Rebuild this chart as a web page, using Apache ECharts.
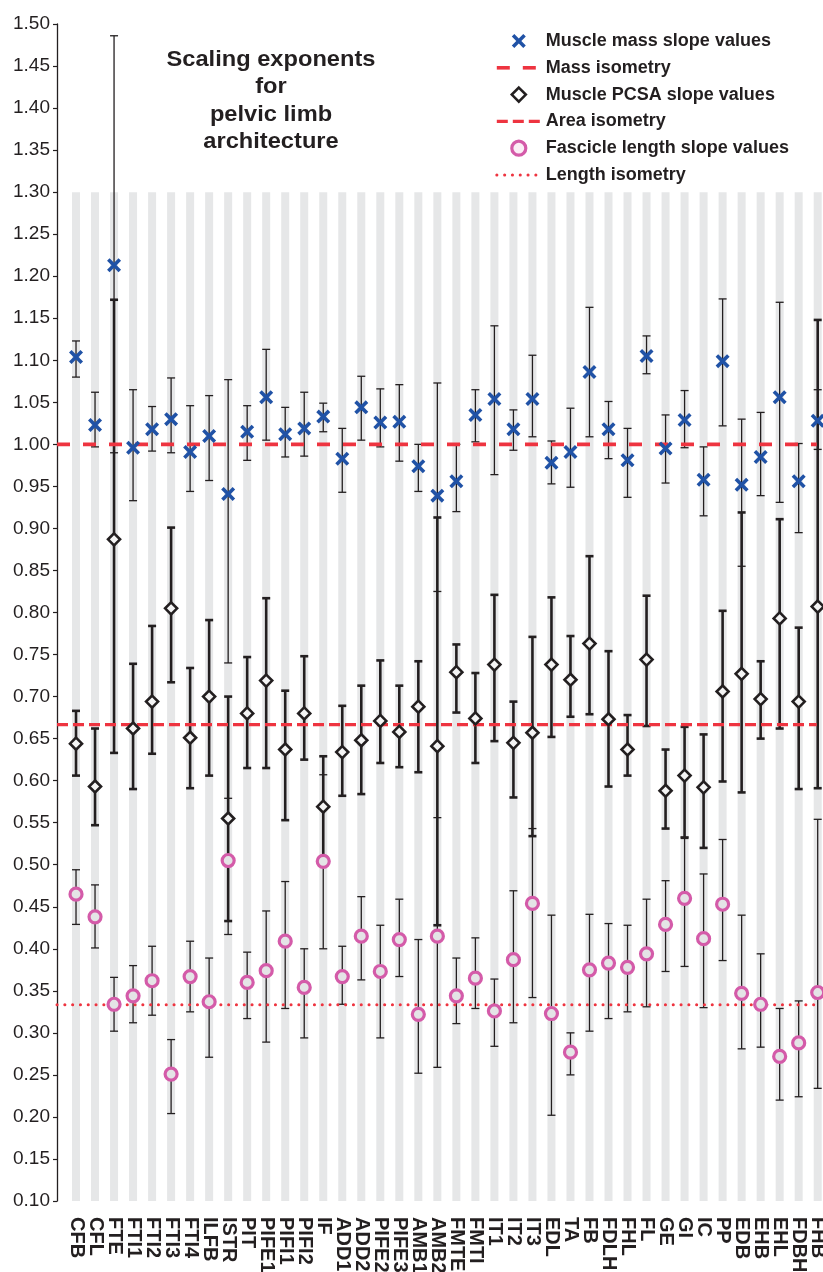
<!DOCTYPE html>
<html>
<head>
<meta charset="utf-8">
<script src="https://cdn.jsdelivr.net/npm/echarts@6/dist/echarts.min.js"></script>
<style>
  html, body { margin: 0; padding: 0; background: #fff; }
  #chart { width: 823px; height: 1272px; }
</style>
</head>
<body>
<div id="chart"></div>
<script>
// muscles along the x axis
var muscles = ['CFB','CFL','FTE','FTI1','FTI2','FTI3','FTI4','ILFB','ISTR','PIT','PIFE1','PIFI1','PIFI2','IF','ADD1','ADD2','PIFE2','PIFE3','AMB1','AMB2','FMTE','FMTI','IT1','IT2','IT3','EDL','TA','FB','FDLH','FHL','FL','GE','GI','IC','PP','EDB','EHB','EHL','FDBH','FHB'];

// muscle mass slopes and their intervals
var massSlope = [1.104,1.023,1.213,0.996,1.018,1.030,0.991,1.010,0.941,1.015,1.056,1.012,1.019,1.033,0.983,1.044,1.026,1.027,0.974,0.939,0.956,1.035,1.054,1.018,1.054,0.978,0.991,1.086,1.018,0.981,1.105,0.995,1.029,0.958,1.099,0.952,0.985,1.056,0.956,1.028];
var massLow   = [1.080,0.997,0.990,0.933,0.992,0.990,0.944,0.957,0.740,0.981,1.005,0.985,0.986,1.015,0.943,1.005,0.997,0.980,0.944,0.825,0.920,1.003,0.964,0.993,1.009,0.953,0.949,1.009,0.983,0.937,1.084,0.954,0.996,0.915,1.022,0.855,0.939,0.931,0.895,0.994];
var massHigh  = [1.123,1.062,1.486,1.065,1.045,1.079,1.046,1.058,1.077,1.046,1.113,1.044,1.062,1.049,1.019,1.081,1.066,1.071,1.000,1.073,1.000,1.065,1.141,1.041,1.106,1.004,1.043,1.163,1.051,1.019,1.129,1.035,1.064,0.997,1.173,1.030,1.038,1.169,1.001,1.065];

// PCSA slopes
var pcsaSlope = [0.644,0.593,0.887,0.662,0.694,0.805,0.651,0.700,0.555,0.680,0.719,0.637,0.680,0.569,0.634,0.648,0.671,0.658,0.688,0.641,0.729,0.674,0.738,0.645,0.657,0.738,0.720,0.763,0.673,0.637,0.744,0.588,0.606,0.592,0.706,0.727,0.697,0.793,0.694,0.807];
var pcsaLow   = [0.606,0.547,0.633,0.590,0.632,0.717,0.591,0.606,0.433,0.615,0.615,0.553,0.625,0.510,0.582,0.584,0.621,0.616,0.610,0.428,0.681,0.621,0.647,0.580,0.534,0.652,0.676,0.679,0.593,0.606,0.665,0.543,0.532,0.520,0.599,0.586,0.650,0.662,0.590,0.591];
var pcsaHigh  = [0.683,0.662,1.172,0.739,0.784,0.901,0.734,0.791,0.700,0.747,0.817,0.707,0.748,0.629,0.689,0.713,0.743,0.713,0.742,0.913,0.762,0.728,0.821,0.694,0.771,0.818,0.772,0.867,0.754,0.678,0.820,0.637,0.664,0.655,0.802,0.919,0.742,0.911,0.782,1.148];

// fascicle length slopes
var lenSlope = [0.465,0.438,0.334,0.344,0.362,0.251,0.367,0.337,0.505,0.360,0.374,0.409,0.354,0.504,0.367,0.415,0.373,0.411,0.322,0.415,0.344,0.365,0.326,0.387,0.454,0.323,0.277,0.375,0.383,0.378,0.394,0.429,0.460,0.412,0.453,0.347,0.334,0.272,0.288,0.348];
var lenLow   = [0.429,0.401,0.302,0.312,0.321,0.204,0.325,0.271,0.417,0.317,0.289,0.329,0.294,0.400,0.334,0.363,0.294,0.367,0.252,0.259,0.311,0.329,0.284,0.312,0.342,0.202,0.250,0.302,0.317,0.325,0.331,0.373,0.379,0.330,0.386,0.281,0.283,0.220,0.224,0.234];
var lenHigh  = [0.494,0.476,0.366,0.380,0.403,0.292,0.409,0.389,0.579,0.396,0.445,0.480,0.400,0.607,0.403,0.462,0.428,0.459,0.411,0.556,0.389,0.413,0.364,0.469,0.543,0.440,0.300,0.441,0.430,0.428,0.459,0.481,0.533,0.489,0.530,0.440,0.394,0.329,0.338,0.554];

// isometry reference values
var massIso = 1.0;
var areaIso = 2 / 3;
var lengthIso = 1 / 3;

// y scale
var yMin = 0.10, yMax = 1.50, yStep = 0.05;
var stripeTop = 1.30;
var xMin = -1, xMax = 39.3, lineEnd = 38.95;

var INK = '#231f20', RED = '#ee3440', BLUE = '#2052a6', PINK = '#d45ba9', STRIPE = '#e6e7e8';
var FONT = 'Liberation Sans';
var NONE = 'rgba(0,0,0,0)';

function pts(vals) { return vals.map(function (v, i) { return [i, v]; }); }
function ranges(lo, hi) { return lo.map(function (v, i) { return [i, v, hi[i]]; }); }

function errorBars(width) {
  return function (params, api) {
    var x = api.value(0);
    var a = api.coord([x, api.value(1)]);
    var b = api.coord([x, api.value(2)]);
    var c = 4;
    var st = { stroke: INK, lineWidth: width };
    return {
      type: 'group',
      children: [
        { type: 'line', shape: { x1: a[0], y1: a[1], x2: b[0], y2: b[1] }, style: st },
        { type: 'line', shape: { x1: a[0] - c, y1: a[1], x2: a[0] + c, y2: a[1] }, style: st },
        { type: 'line', shape: { x1: b[0] - c, y1: b[1], x2: b[0] + c, y2: b[1] }, style: st }
      ]
    };
  };
}

var crossPath = 'path://M0,3.6 L3.6,0 L10,6.4 L16.4,0 L20,3.6 L13.6,10 L20,16.4 L16.4,20 L10,13.6 L3.6,20 L0,16.4 L6.4,10 Z';
var diamondPath = 'path://M10,0 L20,10 L10,20 L0,10 Z';

var myChart = echarts.init(document.getElementById('chart'), null, { renderer: 'canvas' });

var option = {
  animation: false,
  backgroundColor: '#fff',
  textStyle: { fontFamily: FONT, color: INK },
  graphic: [{
    type: 'text',
    x: 271, y: 46,
    scaleX: 1.1,
    style: {
      text: 'Scaling exponents\nfor\npelvic limb\narchitecture',
      textAlign: 'center',
      fill: INK,
      fontFamily: FONT,
      fontWeight: 'bold',
      fontSize: 21.5,
      lineHeight: 27.5
    }
  }],
  legend: {
    orient: 'vertical',
    left: 490, top: 27,
    itemWidth: 44, itemHeight: 14, itemGap: 8.8,
    textStyle: { fontSize: 18, fontWeight: 'bold', color: INK, fontFamily: FONT },
    data: [
      { name: 'Muscle mass slope values' },
      { name: 'Mass isometry', lineStyle: { width: 3.6 } },
      { name: 'Muscle PCSA slope values', itemStyle: { color: '#ffffff', borderColor: INK, borderWidth: 2.6 } },
      { name: 'Area isometry', lineStyle: { width: 3.4 } },
      { name: 'Fascicle length slope values', itemStyle: { color: '#fbeef6', borderColor: PINK, borderWidth: 3.2 } },
      { name: 'Length isometry', lineStyle: { width: 3, cap: 'round' } }
    ]
  },
  grid: { left: 57, top: 24, width: (xMax - xMin) * 19.0175, height: 1177, containLabel: false, outerBoundsMode: 'none' },
  xAxis: {
    type: 'value', min: xMin, max: xMax, interval: 1,
    axisLine: { show: false }, axisTick: { show: false }, splitLine: { show: false },
    axisLabel: {
      rotate: -90, margin: 16, fontSize: 20, fontWeight: 'bold', color: INK, fontFamily: FONT,
      showMinLabel: true, showMaxLabel: true,
      formatter: function (v) {
        return (Math.abs(v - Math.round(v)) < 1e-6 && v >= 0 && v < muscles.length) ? muscles[Math.round(v)] : '';
      }
    }
  },
  yAxis: {
    type: 'value', min: yMin, max: yMax, interval: yStep,
    axisLine: { show: true, onZero: false, lineStyle: { color: INK, width: 1.3 } },
    axisTick: { show: true, length: 4, lineStyle: { color: INK, width: 1.2 } },
    splitLine: { show: false },
    axisLabel: { margin: 7, fontSize: 19, color: INK, fontFamily: FONT, formatter: function (v) { return v.toFixed(2); } }
  },
  series: [
    {
      type: 'custom', name: 'stripes', silent: true, z: 1,
      data: muscles.map(function (m, i) { return [i, yMin, stripeTop]; }),
      encode: { x: 0, y: [1, 2] },
      renderItem: function (params, api) {
        var a = api.coord([api.value(0), api.value(1)]);
        var b = api.coord([api.value(0), api.value(2)]);
        return { type: 'rect', shape: { x: a[0] - 4, y: b[1], width: 8, height: a[1] - b[1] }, style: { fill: STRIPE } };
      }
    },
    { type: 'custom', name: 'massErr', silent: true, z: 2, data: ranges(massLow, massHigh), encode: { x: 0, y: [1, 2] }, renderItem: errorBars(1.3) },
    { type: 'custom', name: 'lenErr', silent: true, z: 2, data: ranges(lenLow, lenHigh), encode: { x: 0, y: [1, 2] }, renderItem: errorBars(1.3) },
    { type: 'custom', name: 'pcsaErr', silent: true, z: 3, data: ranges(pcsaLow, pcsaHigh), encode: { x: 0, y: [1, 2] }, renderItem: errorBars(2.6) },
    {
      type: 'line', name: 'Mass isometry', z: 4, silent: true, symbol: 'circle', showSymbol: false,
      data: [[xMin, massIso], [lineEnd, massIso]],
      lineStyle: { color: RED, width: 3.6, type: [13, 13] }, itemStyle: { color: NONE, borderWidth: 0 }
    },
    {
      type: 'line', name: 'Area isometry', z: 4, silent: true, symbol: 'circle', showSymbol: false,
      data: [[xMin, areaIso], [lineEnd, areaIso]],
      lineStyle: { color: RED, width: 3.4, type: [11, 5] }, itemStyle: { color: NONE, borderWidth: 0 }
    },
    {
      type: 'line', name: 'Length isometry', z: 4, silent: true, symbol: 'circle', showSymbol: false,
      data: [[xMin, lengthIso], [lineEnd, lengthIso]],
      lineStyle: { color: RED, width: 3, type: [0.1, 7.7], cap: 'round' }, itemStyle: { color: NONE, borderWidth: 0 }
    },
    {
      type: 'scatter', name: 'Muscle mass slope values', z: 5,
      symbol: crossPath, symbolSize: 14,
      data: pts(massSlope), itemStyle: { color: BLUE, opacity: 1 }
    },
    {
      type: 'scatter', name: 'Muscle PCSA slope values', z: 5,
      symbol: diamondPath, symbolSize: 12, symbolKeepAspect: true,
      data: pts(pcsaSlope), itemStyle: { color: '#f4f4f4', borderColor: INK, borderWidth: 2.6, opacity: 1 }
    },
    {
      type: 'scatter', name: 'Fascicle length slope values', z: 5,
      symbol: 'circle', symbolSize: 12,
      data: pts(lenSlope), itemStyle: { color: '#e4e4e6', borderColor: PINK, borderWidth: 3.2, opacity: 1 }
    }
  ]
};

myChart.setOption(option);
</script>
</body>
</html>
